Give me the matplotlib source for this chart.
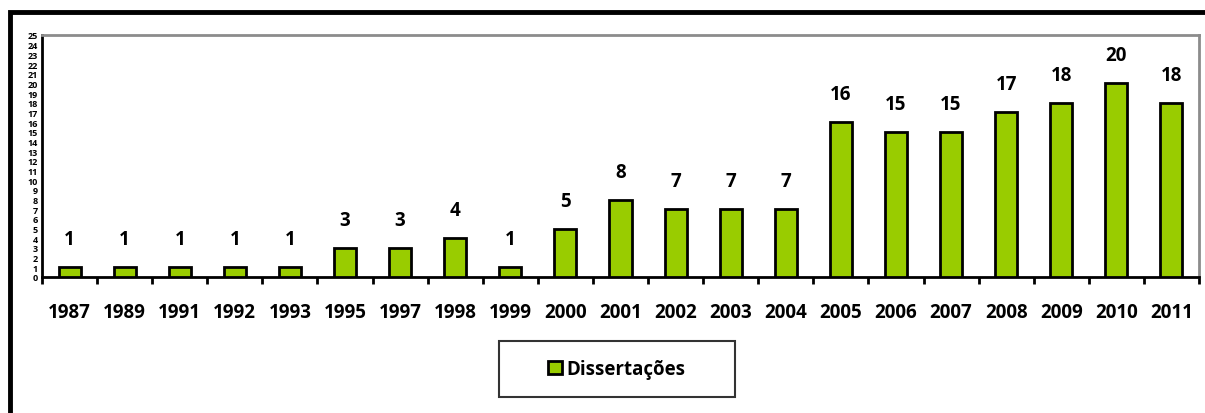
import matplotlib.pyplot as plt
import numpy as np
from matplotlib.patches import Rectangle

years = ["1987", "1989", "1991", "1992", "1993", "1995", "1997", "1998", "1999", "2000",
         "2001", "2002", "2003", "2004", "2005", "2006", "2007", "2008", "2009", "2010", "2011"]
dissertacoes = [1, 1, 1, 1, 1, 3, 3, 4, 1, 5, 8, 7, 7, 7, 16, 15, 15, 17, 18, 20, 18]
yticks = list(range(0, 26))

GREEN = "#99cc00"
FONT = "Open Sans"

W, H = 1205, 414
fig = plt.figure(figsize=(W / 100, H / 100), dpi=100)

# outer chart frame (clipped at right/bottom like the reference)
fig.patches.append(Rectangle((10 / W, -0.1), 1.2, (H - 13) / H + 0.1,
                             transform=fig.transFigure, fill=False,
                             edgecolor="black", lw=3.5))

ax = fig.add_axes([42 / W, 1 - 278 / H, (1199 - 42) / W, (278 - 36) / H])
x = np.arange(len(years))
bars = ax.bar(x, dissertacoes, width=0.4, color=GREEN, edgecolor="black",
              linewidth=2, label="Dissertações", zorder=3)

for xi, v in zip(x, dissertacoes):
    ax.annotate(str(v), (xi, v), xytext=(0, 13), textcoords="offset points",
                ha="center", va="bottom", fontsize=13.5, fontweight="bold",
                family=FONT)

ax.set_xlim(-0.5, len(years) - 0.5)
ax.set_ylim(0, 25)
ax.set_yticks(yticks)
ax.set_yticklabels([str(t) for t in yticks], fontsize=6.5, fontweight="bold",
                   family=FONT)
ax.tick_params(axis="y", length=0, pad=3)

ax.set_xticks(x)
ax.set_xticklabels(years, fontsize=13.5, fontweight="bold", family=FONT)
ax.tick_params(axis="x", length=0, pad=18)
ax.set_xticks(np.arange(-0.5, len(years)), minor=True)
ax.tick_params(axis="x", which="minor", length=5, width=2, direction="out")

for side in ("left", "bottom"):
    ax.spines[side].set_linewidth(2)
    ax.spines[side].set_color("black")
for side in ("top", "right"):
    ax.spines[side].set_linewidth(2)
    ax.spines[side].set_color("#8c8c8c")

leg = fig.legend(handles=[bars], labels=["Dissertações"], loc="center",
                 bbox_to_anchor=(617 / W, 1 - 370 / H),
                 prop={"family": FONT, "weight": "bold", "size": 13.5},
                 frameon=True, fancybox=False, handlelength=0.75,
                 handleheight=0.75, handletextpad=0.25, borderpad=0.95,
                 borderaxespad=0)
leg.get_frame().set_edgecolor("black")
leg.get_frame().set_linewidth(1.5)
leg.get_frame().set_boxstyle("square", pad=0.0)
# widen legend box like the reference
leg._legend_box.set_width(200)

fig.savefig("out.png", dpi=100)
